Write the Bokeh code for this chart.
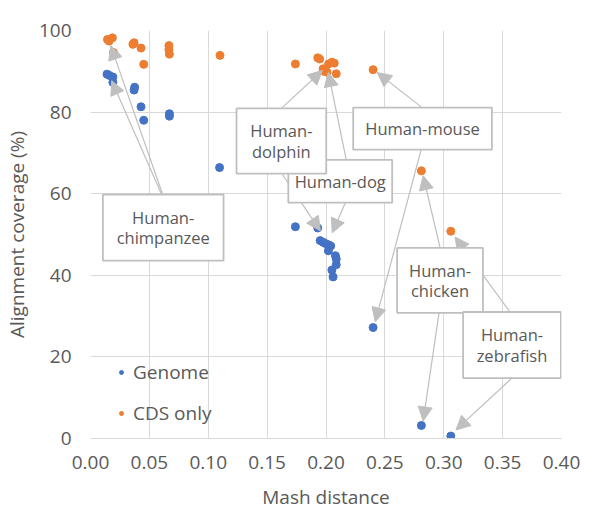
from bokeh.plotting import figure
from bokeh.models import (Arrow, NormalHead, BoxAnnotation, Label, Legend, LegendItem,
                          Range1d, FixedTicker)
from bokeh.embed import file_html
from bokeh.resources import INLINE

# ---------------- data ----------------
genome_x = [0.014, 0.016, 0.019, 0.019, 0.0375, 0.037, 0.0429, 0.0452, 0.067, 0.067, 0.1096,
            0.174, 0.193, 0.195, 0.1975, 0.1994, 0.202, 0.204, 0.202, 0.208, 0.2087, 0.2087,
            0.205, 0.206, 0.240, 0.281, 0.306]
genome_y = [89.3, 89.0, 88.6, 87.3, 86.1, 85.4, 81.3, 78.0, 79.6, 79.0, 66.4,
            51.9, 51.6, 48.5, 48.1, 47.8, 47.5, 47.2, 46.0, 44.8, 44.0, 42.6,
            41.3, 39.6, 27.2, 3.2, 0.6]

cds_x = [0.0144, 0.0186, 0.0158, 0.0195, 0.037, 0.036, 0.0429, 0.0452, 0.0666, 0.0666, 0.067,
         0.110, 0.174, 0.193, 0.1946, 0.1975, 0.198, 0.2008, 0.2022, 0.205, 0.207, 0.2087,
         0.240, 0.281, 0.306]
cds_y = [97.8, 98.2, 97.4, 94.6, 97.0, 96.6, 95.7, 91.7, 96.3, 95.3, 94.2,
         93.9, 91.8, 93.3, 93.0, 90.6, 90.0, 89.8, 91.8, 92.2, 92.0, 89.4,
         90.4, 65.6, 50.8]

x_ticks = [0.0, 0.05, 0.10, 0.15, 0.20, 0.25, 0.30, 0.35, 0.40]
x_tick_labels = ["0.00", "0.05", "0.10", "0.15", "0.20", "0.25", "0.30", "0.35", "0.40"]
y_ticks = [0, 20, 40, 60, 80, 100]
y_tick_labels = ["0", "20", "40", "60", "80", "100"]

series_names = ["Genome", "CDS only"]

# callouts: text, box (left, right, top, bottom) in data units, arrow tips
callout_text = ["Human-\nchimpanzee", "Human-dog", "Human-\ndolphin", "Human-mouse",
                "Human-\nchicken", "Human-\nzebrafish"]
callout_box = [(0.0105, 0.113, 59.8, 43.6),
               (0.168, 0.2562, 68.3, 57.8),
               (0.124, 0.2002, 80.9, 64.9),
               (0.2231, 0.3409, 81.1, 70.8),
               (0.2604, 0.3333, 46.7, 30.8),
               (0.3164, 0.3995, 31.0, 14.8)]
arrow_start = [(0.0613, 59.8), (0.0604, 59.8),
               (0.2172, 68.3), (0.2164, 57.8),
               (0.1621, 80.9), (0.1630, 64.7),
               (0.2816, 81.1), (0.2808, 70.8),
               (0.2969, 46.7), (0.2960, 30.8),
               (0.3562, 31.0), (0.3579, 14.8)]
arrow_end = [(0.0172, 96.3), (0.0180, 87.7),
             (0.2020, 89.7), (0.2053, 50.4),
             (0.1969, 90.2), (0.1952, 50.9),
             (0.2435, 89.7), (0.2418, 28.6),
             (0.2825, 64.4), (0.2825, 4.3),
             (0.3096, 49.4), (0.3104, 2.1)]

# ---------------- styles ----------------
BLUE = "#4472C4"
ORANGE = "#ED7D31"
TEXT = "#595959"
GRID = "#d9d9d9"
CALLOUT = "#bfbfbf"
FONT = "Open Sans"

p = figure(width=604, height=512, output_backend="svg", toolbar_location=None,
           x_range=Range1d(0, 0.4), y_range=Range1d(0, 100),
           min_border_left=89, min_border_right=43, min_border_top=30, min_border_bottom=74,
           background_fill_color="white", border_fill_color="white")
p.outline_line_color = None

p.xaxis.ticker = FixedTicker(ticks=x_ticks)
p.yaxis.ticker = FixedTicker(ticks=y_ticks)
p.xaxis.major_label_overrides = {t: l for t, l in zip(x_ticks, x_tick_labels)}
p.yaxis.major_label_overrides = {t: l for t, l in zip(y_ticks, y_tick_labels)}
for ax in (p.xaxis, p.yaxis):
    ax.major_tick_line_color = None
    ax.minor_tick_line_color = None
    ax.major_tick_out = 0
    ax.major_tick_in = 0
    ax.major_label_text_font = FONT
    ax.major_label_text_font_size = "19px"
    ax.major_label_text_color = TEXT
    ax.axis_label_text_font = FONT
    ax.axis_label_text_font_size = "19px"
    ax.axis_label_text_color = TEXT
    ax.axis_label_text_font_style = "normal"
p.xaxis.axis_line_color = GRID
p.yaxis.axis_line_color = None
p.xaxis.axis_label = "Mash distance"
p.yaxis.axis_label = "Alignment coverage (%)"
p.xaxis.major_label_standoff = 17
p.yaxis.major_label_standoff = 19
p.xaxis.axis_label_standoff = 12
p.yaxis.axis_label_standoff = 6
p.xgrid.grid_line_color = GRID
p.ygrid.grid_line_color = GRID
p.xgrid.ticker = FixedTicker(ticks=x_ticks)
p.ygrid.ticker = FixedTicker(ticks=y_ticks)

r_gen = p.scatter(genome_x, genome_y, size=8, color=BLUE)
r_cds = p.scatter(cds_x, cds_y, size=8, color=ORANGE)

# arrows first (under boxes)
for (x0, y0), (x1, y1) in zip(arrow_start, arrow_end):
    p.add_layout(Arrow(x_start=x0, y_start=y0, x_end=x1, y_end=y1,
                       line_color=CALLOUT, line_width=1.2,
                       end=NormalHead(size=14, fill_color=CALLOUT, line_color=CALLOUT)))

for txt, (l, r, t, b) in zip(callout_text, callout_box):
    p.add_layout(BoxAnnotation(left=l, right=r, top=t, bottom=b,
                               fill_color="white", fill_alpha=1.0,
                               line_color=CALLOUT, line_width=1.8, line_alpha=1.0))
    p.add_layout(Label(x=(l + r) / 2, y=(t + b) / 2, text=txt,
                       text_align="center", text_baseline="middle",
                       text_font=FONT, text_font_size="16.5px", text_color=TEXT,
                       text_line_height=0.9))

legend = Legend(items=[LegendItem(label=series_names[0], renderers=[r_gen]),
                       LegendItem(label=series_names[1], renderers=[r_cds])],
                location=(26, 12), orientation="vertical",
                label_text_font=FONT, label_text_font_size="19px", label_text_color=TEXT,
                glyph_width=10, glyph_height=22, label_height=22, label_standoff=7,
                spacing=15, padding=0, margin=0,
                border_line_color=None, background_fill_alpha=0)
p.add_layout(legend)

open("out.html", "w").write(file_html(p, INLINE))
